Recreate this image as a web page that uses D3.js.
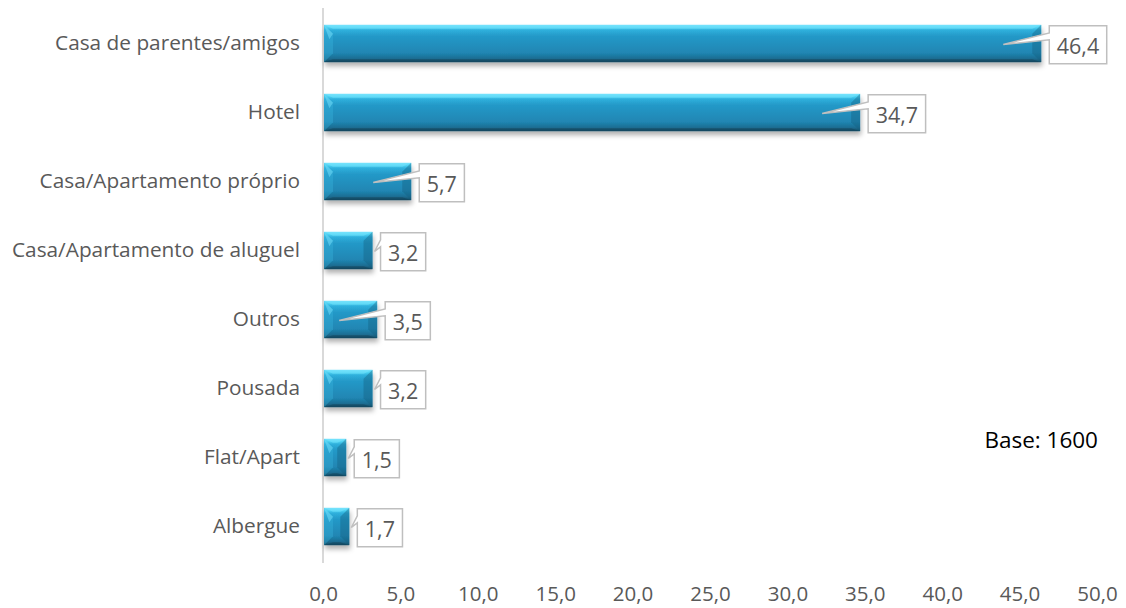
<!DOCTYPE html>
<html><head><meta charset="utf-8">
<script src="https://cdn.jsdelivr.net/npm/d3@7"></script>
<style>body{margin:0;background:#fff}svg{display:block}</style>
</head><body>
<svg id="c" width="1126" height="608"></svg>
<script>
const categories = ["Casa de parentes/amigos","Hotel","Casa/Apartamento próprio","Casa/Apartamento de aluguel","Outros","Pousada","Flat/Apart","Albergue"];
const values = [46.4,34.7,5.7,3.2,3.5,3.2,1.5,1.7];
const tickValues = [0,5,10,15,20,25,30,35,40,45,50];
const noteText = "Base: 1600";

const FONT = "'Open Sans', Lato, sans-serif";
const svg = d3.select("#c");
const defs = svg.append("defs");
const g1 = defs.append("linearGradient").attr("id","body").attr("x1",0).attr("y1",0).attr("x2",0).attr("y2",1);
[[0,"#6fe0fb"],[0.07,"#4fd2f2"],[0.14,"#2fb0dc"],[0.3,"#2499c8"],[0.75,"#2086b3"],[0.9,"#1c6e93"],[1,"#164d66"]]
  .forEach(([o,c])=>g1.append("stop").attr("offset",o).attr("stop-color",c));
const f = defs.append("filter").attr("id","sh").attr("x","-10%").attr("y","-30%").attr("width","130%").attr("height","180%");
f.append("feDropShadow").attr("dx",1).attr("dy",4).attr("stdDeviation",2.5).attr("flood-color","#000").attr("flood-opacity",0.3);

const x = d3.scaleLinear().domain([0,50]).range([323,1097]);
const y = d3.scaleBand().domain(categories).range([9,561]).paddingInner(0.46).paddingOuter(0.23);

svg.append("line").attr("x1",x(0)).attr("x2",x(0)).attr("y1",8).attr("y2",563)
  .attr("stroke","#d9d9d9").attr("stroke-width",2);

const fmt = v => d3.format(".1f")(v).replace(".",",");
const xa = svg.append("g").attr("transform","translate(0,563)")
  .call(d3.axisBottom(x).tickValues(tickValues).tickFormat(fmt).tickSize(0).tickPadding(23));
xa.select(".domain").remove();
xa.selectAll("text").attr("font-family",FONT).attr("font-size",20.5).attr("fill","#595959");

const ya = svg.append("g").attr("transform","translate(300,0)")
  .call(d3.axisLeft(y).tickSize(0).tickPadding(0));
ya.select(".domain").remove();
ya.selectAll("text").attr("font-family",FONT).attr("font-size",20.8).attr("fill","#595959");

const data = categories.map((c,i)=>({c, v: values[i]}));
const bars = svg.append("g").selectAll("g").data(data).join("g");
bars.each(function(d){
  const gg = d3.select(this);
  const x0 = x(0)+1, x1 = x(d.v), t = y(d.c), h = y.bandwidth(), bt = t+h;
  const w = x1-x0;
  const b = Math.min(9, w/2, h/2);
  gg.append("rect").attr("x",x0).attr("y",t).attr("width",w).attr("height",h)
    .attr("fill","url(#body)").attr("filter","url(#sh)");
  gg.append("path").attr("d",`M${x0},${t}L${x0+b},${t+b}L${x0+b},${bt-b}L${x0},${bt}Z`)
    .attr("fill","#3ab6e0").attr("opacity",0.35);
  gg.append("path").attr("d",`M${x0},${t}L${x0+b},${t+b}L${x0+b*0.6},${t+b*1.6}Z`)
    .attr("fill","#7fe6ff").attr("opacity",0.45);
  gg.append("path").attr("d",`M${x1},${t}L${x1-b},${t+b}L${x1-b},${bt-b}L${x1},${bt}Z`)
    .attr("fill","#14607f").attr("opacity",0.4);
  gg.append("path").attr("d",`M${x0},${t}L${x1},${t}L${x1-b},${t+Math.min(b,4)}L${x0+b},${t+Math.min(b,4)}Z`)
    .attr("fill","#7ee6ff").attr("opacity",0.45);
  gg.append("path").attr("d",`M${x0},${bt}L${x1},${bt}L${x1-b},${bt-3}L${x0+b},${bt-3}Z`)
    .attr("fill","#123f55").attr("opacity",0.45);
});

const lab = svg.append("g").selectAll("g").data(data).join("g");
lab.each(function(d){
  const gg = d3.select(this);
  const x1 = x(d.v), t = y(d.c)+1, h = 38;
  const txt = gg.append("text").text(fmt(d.v)).attr("font-family",FONT).attr("font-size",21.5)
    .attr("fill","#595959").attr("text-anchor","middle").attr("dominant-baseline","central");
  const tw = txt.node().getComputedTextLength();
  const L = x1+8, W = tw+15, R = L+W, B = t+h;
  const cy = y(d.c)+y.bandwidth()/2+1;
  let tipX = x1-38;
  if (tipX < x(0)+12) tipX = x1+2;
  gg.insert("path","text").attr("d",`M${L},${t}H${R}V${B}H${L}V${t+14}L${tipX},${cy}L${L},${t+7}Z`)
    .attr("fill","#fff").attr("stroke","#bfbfbf").attr("stroke-width",1.5);
  txt.attr("x",L+W/2).attr("y",t+h/2+1);
});

svg.append("text").attr("x",1098).attr("y",439).attr("text-anchor","end").attr("dominant-baseline","central")
  .attr("font-family",FONT).attr("font-size",22.5).attr("fill","#000").text(noteText);
</script>
</body></html>
